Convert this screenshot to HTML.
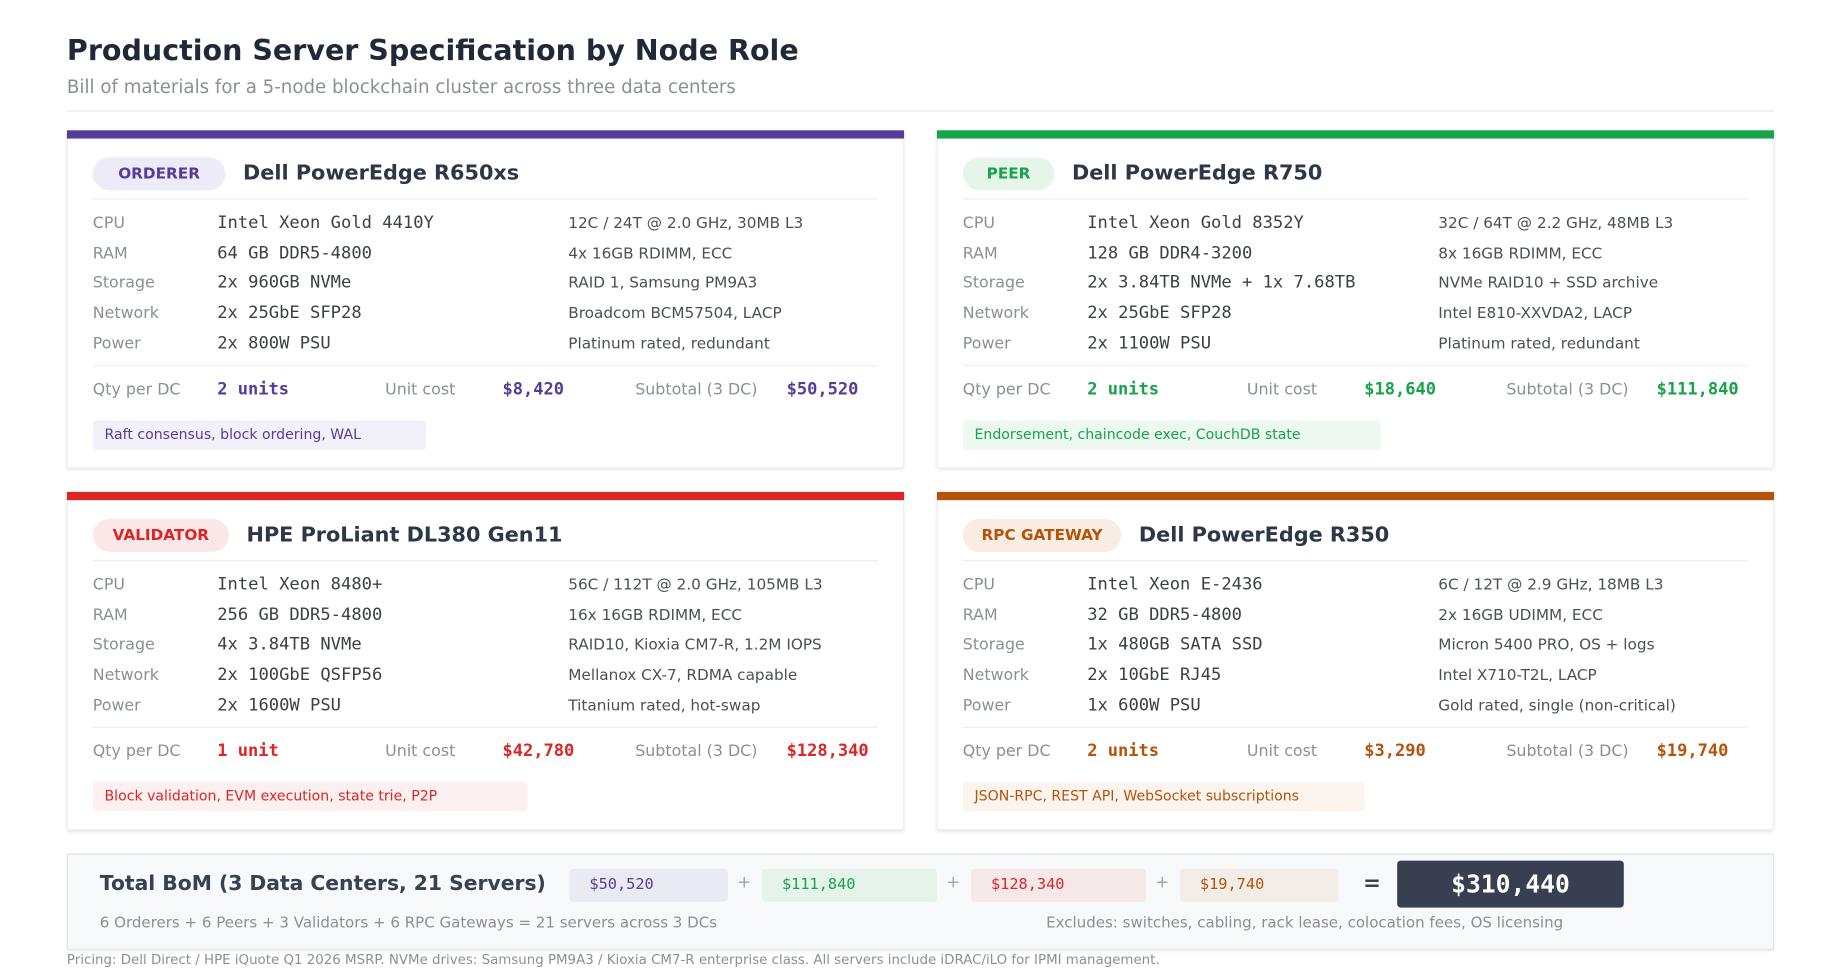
<!DOCTYPE html>
<html><head><meta charset="utf-8">
<style>
*{margin:0;padding:0;box-sizing:border-box}
html,body{width:1840px;height:971px;overflow:hidden;background:#fff}
#w{position:absolute;left:0;top:0;width:1567px;height:827px;transform:scale(1.1741);transform-origin:0 0;font-family:"DejaVu Sans","Liberation Sans",sans-serif;color:#374151}
.a{position:absolute;white-space:nowrap}
.m{font-family:"DejaVu Sans Mono","Liberation Mono",monospace}
.card{position:absolute;width:713px;height:288px;background:#fff;box-shadow:0 1px 3px rgba(0,0,0,0.12);border:1px solid #eef0f3}
.bar{position:absolute;left:-1px;top:-1px;right:-1px;height:7px}
.badge{position:absolute;left:21px;top:22px;height:28px;line-height:30px;border-radius:14px;text-align:center;font-size:13px;font-weight:bold}
.ttl{position:absolute;top:22px;line-height:28px;font-size:17.7px;font-weight:bold;color:#2d3748}
.sep{position:absolute;left:21px;right:21px;height:1px;background:#eceef1}
.r{position:absolute;line-height:20px;font-size:13.5px;white-space:nowrap}
.l{left:21px;color:#8a8f98}
.v{left:127px;color:#3b3f46;font-family:"DejaVu Sans Mono","Liberation Mono",monospace;font-size:14.6px}
.n{left:426px;color:#4b5058;font-size:13px;margin-top:1px}
.q{position:absolute;top:210px;line-height:20px;font-size:13.5px;color:#8a8f98;white-space:nowrap}
.qv{position:absolute;top:210px;line-height:20px;font-size:14.5px;font-weight:bold;font-family:"DejaVu Sans Mono","Liberation Mono",monospace;white-space:nowrap}
.tag{position:absolute;left:21px;top:246px;height:25px;line-height:25px;padding-left:10px;font-size:12px;border-radius:3px}
.chip{position:absolute;top:740px;height:28px;line-height:28px;padding-left:17px;font-size:13px;border-radius:3px;font-family:"DejaVu Sans Mono","Liberation Mono",monospace}
.pl{position:absolute;top:744px;font-size:14px;color:#9ca3af}
</style></head><body><div id="w">
<div class="a" style="left:57px;top:28px;font-size:24.3px;font-weight:bold;color:#1f2937">Production Server Specification by Node Role</div>
<div class="a" style="left:57px;top:65px;font-size:15.5px;color:#8b8f96">Bill of materials for a 5-node blockchain cluster across three data centers</div>
<div class="a" style="left:57px;top:94px;width:1454px;height:1px;background:#e5e7eb"></div>

<!-- ORDERER -->
<div class="card" style="left:57px;top:111px">
<div class="bar" style="background:#553c9a"></div>
<div class="badge" style="width:113px;background:#ecebf7;color:#553c9a">ORDERER</div>
<div class="ttl" style="left:149px">Dell PowerEdge R650xs</div>
<div class="sep" style="top:57px"></div>
<div class="r l" style="top:68px">CPU</div><div class="r v" style="top:68px">Intel Xeon Gold 4410Y</div><div class="r n" style="top:68px">12C / 24T @ 2.0 GHz, 30MB L3</div>
<div class="r l" style="top:94px">RAM</div><div class="r v" style="top:94px">64 GB DDR5-4800</div><div class="r n" style="top:94px">4x 16GB RDIMM, ECC</div>
<div class="r l" style="top:119px">Storage</div><div class="r v" style="top:119px">2x 960GB NVMe</div><div class="r n" style="top:119px">RAID 1, Samsung PM9A3</div>
<div class="r l" style="top:145px">Network</div><div class="r v" style="top:145px">2x 25GbE SFP28</div><div class="r n" style="top:145px">Broadcom BCM57504, LACP</div>
<div class="r l" style="top:171px">Power</div><div class="r v" style="top:171px">2x 800W PSU</div><div class="r n" style="top:171px">Platinum rated, redundant</div>
<div class="sep" style="top:199px"></div>
<div class="q" style="left:21px">Qty per DC</div><div class="qv" style="left:127px;color:#553c9a">2 units</div>
<div class="q" style="left:270px">Unit cost</div><div class="qv" style="left:370px;color:#553c9a">$8,420</div>
<div class="q" style="left:483px">Subtotal (3 DC)</div><div class="qv" style="left:612px;color:#553c9a">$50,520</div>
<div class="tag" style="width:284px;background:#f2f1f9;color:#553c9a">Raft consensus, block ordering, WAL</div>
</div>

<!-- PEER -->
<div class="card" style="left:798px;top:111px">
<div class="bar" style="background:#16a34a"></div>
<div class="badge" style="width:78px;background:#e6f5ea;color:#16a34a">PEER</div>
<div class="ttl" style="left:114px">Dell PowerEdge R750</div>
<div class="sep" style="top:57px"></div>
<div class="r l" style="top:68px">CPU</div><div class="r v" style="top:68px">Intel Xeon Gold 8352Y</div><div class="r n" style="top:68px">32C / 64T @ 2.2 GHz, 48MB L3</div>
<div class="r l" style="top:94px">RAM</div><div class="r v" style="top:94px">128 GB DDR4-3200</div><div class="r n" style="top:94px">8x 16GB RDIMM, ECC</div>
<div class="r l" style="top:119px">Storage</div><div class="r v" style="top:119px">2x 3.84TB NVMe + 1x 7.68TB</div><div class="r n" style="top:119px">NVMe RAID10 + SSD archive</div>
<div class="r l" style="top:145px">Network</div><div class="r v" style="top:145px">2x 25GbE SFP28</div><div class="r n" style="top:145px">Intel E810-XXVDA2, LACP</div>
<div class="r l" style="top:171px">Power</div><div class="r v" style="top:171px">2x 1100W PSU</div><div class="r n" style="top:171px">Platinum rated, redundant</div>
<div class="sep" style="top:199px"></div>
<div class="q" style="left:21px">Qty per DC</div><div class="qv" style="left:127px;color:#16a34a">2 units</div>
<div class="q" style="left:263px">Unit cost</div><div class="qv" style="left:363px;color:#16a34a">$18,640</div>
<div class="q" style="left:484px">Subtotal (3 DC)</div><div class="qv" style="left:612px;color:#16a34a">$111,840</div>
<div class="tag" style="width:356px;background:#edf8f0;color:#16a34a">Endorsement, chaincode exec, CouchDB state</div>
</div>

<!-- VALIDATOR -->
<div class="card" style="left:57px;top:419px">
<div class="bar" style="background:#dc2626"></div>
<div class="badge" style="width:116px;background:#fbe7e7;color:#dc2626">VALIDATOR</div>
<div class="ttl" style="left:152px">HPE ProLiant DL380 Gen11</div>
<div class="sep" style="top:57px"></div>
<div class="r l" style="top:68px">CPU</div><div class="r v" style="top:68px">Intel Xeon 8480+</div><div class="r n" style="top:68px">56C / 112T @ 2.0 GHz, 105MB L3</div>
<div class="r l" style="top:94px">RAM</div><div class="r v" style="top:94px">256 GB DDR5-4800</div><div class="r n" style="top:94px">16x 16GB RDIMM, ECC</div>
<div class="r l" style="top:119px">Storage</div><div class="r v" style="top:119px">4x 3.84TB NVMe</div><div class="r n" style="top:119px">RAID10, Kioxia CM7-R, 1.2M IOPS</div>
<div class="r l" style="top:145px">Network</div><div class="r v" style="top:145px">2x 100GbE QSFP56</div><div class="r n" style="top:145px">Mellanox CX-7, RDMA capable</div>
<div class="r l" style="top:171px">Power</div><div class="r v" style="top:171px">2x 1600W PSU</div><div class="r n" style="top:171px">Titanium rated, hot-swap</div>
<div class="sep" style="top:199px"></div>
<div class="q" style="left:21px">Qty per DC</div><div class="qv" style="left:127px;color:#dc2626">1 unit</div>
<div class="q" style="left:270px">Unit cost</div><div class="qv" style="left:370px;color:#dc2626">$42,780</div>
<div class="q" style="left:483px">Subtotal (3 DC)</div><div class="qv" style="left:612px;color:#dc2626">$128,340</div>
<div class="tag" style="width:370px;background:#fcf0f0;color:#dc2626">Block validation, EVM execution, state trie, P2P</div>
</div>

<!-- RPC -->
<div class="card" style="left:798px;top:419px">
<div class="bar" style="background:#b45309"></div>
<div class="badge" style="width:135px;background:#f8ece3;color:#b45309">RPC GATEWAY</div>
<div class="ttl" style="left:171px">Dell PowerEdge R350</div>
<div class="sep" style="top:57px"></div>
<div class="r l" style="top:68px">CPU</div><div class="r v" style="top:68px">Intel Xeon E-2436</div><div class="r n" style="top:68px">6C / 12T @ 2.9 GHz, 18MB L3</div>
<div class="r l" style="top:94px">RAM</div><div class="r v" style="top:94px">32 GB DDR5-4800</div><div class="r n" style="top:94px">2x 16GB UDIMM, ECC</div>
<div class="r l" style="top:119px">Storage</div><div class="r v" style="top:119px">1x 480GB SATA SSD</div><div class="r n" style="top:119px">Micron 5400 PRO, OS + logs</div>
<div class="r l" style="top:145px">Network</div><div class="r v" style="top:145px">2x 10GbE RJ45</div><div class="r n" style="top:145px">Intel X710-T2L, LACP</div>
<div class="r l" style="top:171px">Power</div><div class="r v" style="top:171px">1x 600W PSU</div><div class="r n" style="top:171px">Gold rated, single (non-critical)</div>
<div class="sep" style="top:199px"></div>
<div class="q" style="left:21px">Qty per DC</div><div class="qv" style="left:127px;color:#b45309">2 units</div>
<div class="q" style="left:263px">Unit cost</div><div class="qv" style="left:363px;color:#b45309">$3,290</div>
<div class="q" style="left:484px">Subtotal (3 DC)</div><div class="qv" style="left:612px;color:#b45309">$19,740</div>
<div class="tag" style="width:342px;background:#fbf4ef;color:#b45309">JSON-RPC, REST API, WebSocket subscriptions</div>
</div>

<!-- TOTAL -->
<div class="a" style="left:57px;top:727px;width:1454px;height:82px;background:#f8f9fb;border:1px solid #e3e5e9;box-shadow:0 1px 3px rgba(0,0,0,0.08)"></div>
<div class="a" style="left:85px;top:743px;font-size:17.3px;font-weight:bold;color:#374151">Total BoM (3 Data Centers, 21 Servers)</div>
<div class="chip" style="left:485px;width:135px;background:#eaeaf3;color:#553c9a">$50,520</div>
<div class="pl" style="left:628px">+</div>
<div class="chip" style="left:649px;width:149px;background:#e6f3ea;color:#16a34a">$111,840</div>
<div class="pl" style="left:806px">+</div>
<div class="chip" style="left:827px;width:149px;background:#f5e8e8;color:#dc2626">$128,340</div>
<div class="pl" style="left:984px">+</div>
<div class="chip" style="left:1005px;width:135px;background:#f3ede7;color:#b45309">$19,740</div>
<div class="a" style="left:1161px;top:742px;font-size:18px;font-weight:bold;color:#374151">=</div>
<div class="a m" style="left:1190px;top:733px;width:193px;height:40px;line-height:40px;text-align:center;background:#373f51;color:#fff;font-size:21px;font-weight:bold;border-radius:3px">$310,440</div>
<div class="a" style="left:85px;top:779px;font-size:12.8px;color:#8b8f96">6 Orderers + 6 Peers + 3 Validators + 6 RPC Gateways = 21 servers across 3 DCs</div>
<div class="a" style="left:891px;top:779px;font-size:12.8px;color:#8b8f96">Excludes: switches, cabling, rack lease, colocation fees, OS licensing</div>
<div class="a" style="left:57px;top:810px;font-size:11.4px;color:#8b8f96">Pricing: Dell Direct / HPE iQuote Q1 2026 MSRP. NVMe drives: Samsung PM9A3 / Kioxia CM7-R enterprise class. All servers include iDRAC/iLO for IPMI management.</div>
</div></body></html>
